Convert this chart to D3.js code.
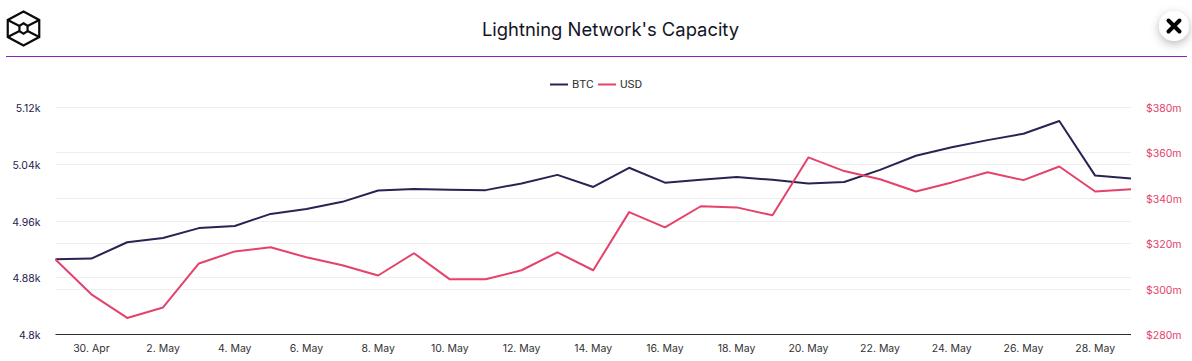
<!DOCTYPE html>
<html>
<head>
<meta charset="utf-8">
<script src="https://cdn.jsdelivr.net/npm/d3@7/dist/d3.min.js"></script>
<style>
html,body{margin:0;padding:0;background:#fff;overflow:hidden}
svg{display:block}
.domain{display:none}
</style>
</head>
<body>
<svg id="c" width="1192" height="361"></svg>
<script>
const titleText = "Lightning Network's Capacity";
const seriesNames = ["BTC", "USD"];
const seriesColors = ["#2a2252", "#e4426a"];
const startDate = Date.UTC(2024, 3, 29);
const dayIndex = [0,1,2,3,4,5,6,7,8,9,10,11,12,13,14,15,16,17,18,19,20,21,22,23,24,25,26,27,28,29,30];
const btcValues = [4906,4907,4930,4936,4950,4953,4970,4977,4987,5003,5005,5004,5003.5,5013,5025,5008,5035,5014,5018,5022,5018,5013,5015,5032,5052,5064,5074,5083,5101,5024,5020];
const usdValues = [313,297.7,287.3,291.9,311.3,316.6,318.4,314,310.5,306,315.8,304.3,304.3,308.3,316.2,308.3,333.9,327.2,336.5,336,332.5,358,352,348.4,343,347,351.5,348,354,343,344];
const btcTicks = [4800,4880,4960,5040,5120];
const btcTickLabels = ["4.8k","4.88k","4.96k","5.04k","5.12k"];
const usdTicks = [280,300,320,340,360,380];
const dateTickIdx = [1,3,5,7,9,11,13,15,17,19,21,23,25,27,29];
const dateTickLabels = ["30. Apr","2. May","4. May","6. May","8. May","10. May","12. May","14. May","16. May","18. May","20. May","22. May","24. May","26. May","28. May"];

const svg = d3.select("#c");
const L = 55.5, R = 1131, T = 107.5, B = 334.5;
const toDate = i => new Date(startDate + i * 864e5);
const x = d3.scaleUtc().domain([toDate(0), toDate(30)]).range([L, R]);
const yL = d3.scaleLinear().domain([4800,5120]).range([B, T]);
const yR = d3.scaleLinear().domain([280,380]).range([B, T]);

const defs = svg.append("defs");
const f = defs.append("filter").attr("id","sh").attr("x","-60%").attr("y","-60%").attr("width","220%").attr("height","220%");
f.append("feDropShadow").attr("dx",0).attr("dy",3).attr("stdDeviation",5).attr("flood-color","#000").attr("flood-opacity",0.28);

// header logo
const logo = svg.append("g").attr("transform","translate(23.5,28.5)").attr("fill","none").attr("stroke","#0b0b0b").attr("stroke-width",2.2);
const hex = (r,sx) => d3.range(6).map(i => { const a = Math.PI/3*i - Math.PI/2; return [r*Math.cos(a)*sx, r*Math.sin(a)]; });
const outer = hex(17,1.07), inner = hex(5.2,0.9);
logo.append("path").attr("d", d3.line().curve(d3.curveLinearClosed)(outer));
logo.append("path").attr("d", d3.line().curve(d3.curveLinearClosed)(inner));
[1,2,4,5].forEach(i => logo.append("line").attr("x1",inner[i][0]).attr("y1",inner[i][1]).attr("x2",outer[i][0]).attr("y2",outer[i][1]));

svg.append("text").attr("x",610.5).attr("y",35.5).attr("text-anchor","middle")
  .attr("font-family","Inter").attr("font-size",18.4).attr("fill","#14141f").text(titleText);
svg.append("line").attr("x1",6).attr("x2",1187).attr("y1",56.5).attr("y2",56.5).attr("stroke","#8e1fb8").attr("stroke-width",1);

const cb = svg.append("g").attr("transform","translate(1174,26)");
cb.append("circle").attr("r",15).attr("fill","#fff").attr("filter","url(#sh)");
cb.append("path").attr("d","M-5.5,-5.5L5.5,5.5M5.5,-5.5L-5.5,5.5").attr("stroke","#000").attr("stroke-width",4).attr("stroke-linecap","round");

// legend
const lg = svg.append("g").attr("font-family","Roboto").attr("font-size",11.7).attr("fill","#333");
[[550,568,572],[598,616,620]].forEach((p,i)=>{
  lg.append("line").attr("x1",p[0]).attr("x2",p[1]).attr("y1",84.5).attr("y2",84.5).attr("stroke",seriesColors[i]).attr("stroke-width",2);
  lg.append("text").attr("x",p[2]).attr("y",88).text(seriesNames[i]);
});

// grid
const gridG = svg.append("g").attr("stroke","#eeeeee").attr("stroke-width",1);
btcTicks.slice(1).forEach(v => gridG.append("line").attr("x1",L).attr("x2",R).attr("y1",Math.round(yL(v)-.5)+.5).attr("y2",Math.round(yL(v)-.5)+.5));
usdTicks.slice(1).forEach(v => gridG.append("line").attr("x1",L).attr("x2",R).attr("y1",Math.round(yR(v)-.5)+.5).attr("y2",Math.round(yR(v)-.5)+.5));

// axes
const ax = svg.append("g").attr("transform",`translate(-0.5,${B})`)
  .call(d3.axisBottom(x).tickValues(dateTickIdx.map(toDate)).tickSize(0).tickPadding(10)
    .tickFormat((d,i)=>dateTickLabels[i]));
ax.selectAll("text").attr("font-family","Inter").attr("font-size",10.5).attr("fill","#333");

const al = svg.append("g").attr("transform","translate(40.5,0.7)")
  .call(d3.axisLeft(yL).tickValues(btcTicks).tickSize(0).tickPadding(0).tickFormat((d,i)=>btcTickLabels[i]));
al.selectAll("text").attr("font-family","Inter").attr("font-size",10.5).attr("fill","#1f1a4f");

const ar = svg.append("g").attr("transform","translate(1146,0.7)")
  .call(d3.axisRight(yR).tickValues(usdTicks).tickSize(0).tickPadding(0).tickFormat(d=>"$"+d+"m"));
ar.selectAll("text").attr("font-family","Inter").attr("font-size",10.5).attr("fill","#e4426a");

svg.append("line").attr("x1",L).attr("x2",R).attr("y1",B).attr("y2",B).attr("stroke","#2b2b33").attr("stroke-width",1);

// lines
const lineL = d3.line().x((d,i)=>x(toDate(dayIndex[i]))).y(d=>yL(d));
const lineR = d3.line().x((d,i)=>x(toDate(dayIndex[i]))).y(d=>yR(d));
svg.append("path").datum(btcValues).attr("d",lineL).attr("fill","none").attr("stroke",seriesColors[0]).attr("stroke-width",2).attr("stroke-linejoin","round");
svg.append("path").datum(usdValues).attr("d",lineR).attr("fill","none").attr("stroke",seriesColors[1]).attr("stroke-width",2).attr("stroke-linejoin","round");
</script>
</body>
</html>
